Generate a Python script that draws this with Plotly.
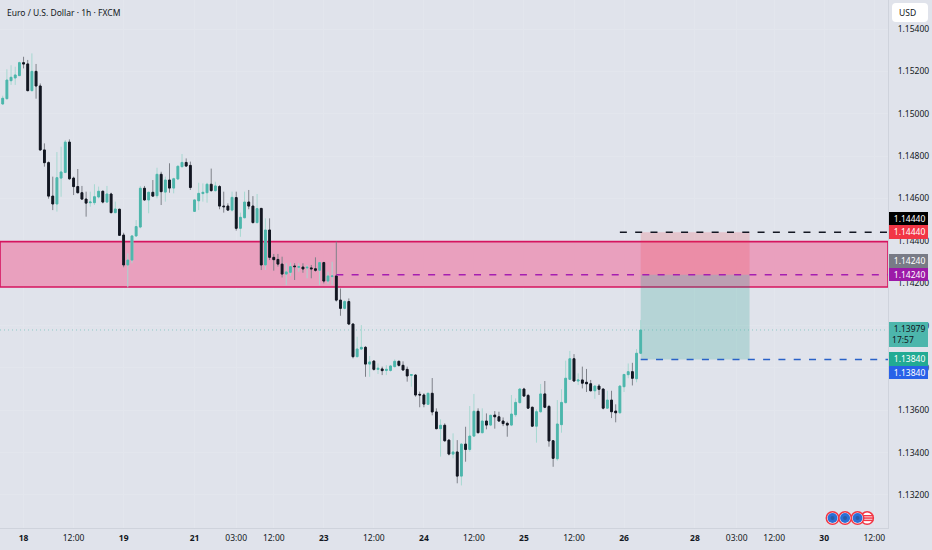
import plotly.graph_objects as go

# hourly EUR/USD candles
OPENS = [
    1.15046, 1.15071, 1.15156, 1.15169, 1.15180, 1.15241, 1.15235, 1.15109, 1.15200, 1.15131,
    1.14829, 1.14769, 1.14611, 1.14574, 1.14696, 1.14723, 1.14866, 1.14696, 1.14656, 1.14627,
    1.14597, 1.14580, 1.14580, 1.14607, 1.14634, 1.14583, 1.14621, 1.14533, 1.14549, 1.14427,
    1.14286, 1.14309, 1.14423, 1.14465, 1.14648, 1.14593, 1.14629, 1.14613, 1.14714, 1.14630,
    1.14687, 1.14649, 1.14692, 1.14750, 1.14770, 1.14756, 1.14539, 1.14589, 1.14623, 1.14627,
    1.14667, 1.14637, 1.14656, 1.14564, 1.14564, 1.14545, 1.14604, 1.14459, 1.14509, 1.14583,
    1.14564, 1.14486, 1.14553, 1.14286, 1.14451, 1.14322, 1.14312, 1.14290, 1.14243, 1.14251,
    1.14281, 1.14275, 1.14276, 1.14272, 1.14272, 1.14268, 1.14261, 1.14297, 1.14210, 1.14231,
    1.14234, 1.14120, 1.14081, 1.14113, 1.14007, 1.13853, 1.13889, 1.13897, 1.13818, 1.13832,
    1.13793, 1.13795, 1.13788, 1.13788, 1.13806, 1.13831, 1.13812, 1.13793, 1.13765, 1.13766,
    1.13675, 1.13672, 1.13628, 1.13680, 1.13592, 1.13513, 1.13529, 1.13459, 1.13393, 1.13403,
    1.13289, 1.13440, 1.13415, 1.13478, 1.13595, 1.13494, 1.13549, 1.13530, 1.13577, 1.13569,
    1.13549, 1.13538, 1.13530, 1.13579, 1.13636, 1.13700, 1.13670, 1.13614, 1.13525, 1.13593,
    1.13677, 1.13618, 1.13456, 1.13371, 1.13532, 1.13636, 1.13746, 1.13843, 1.13738, 1.13743,
    1.13732, 1.13725, 1.13692, 1.13714, 1.13700, 1.13610, 1.13648, 1.13596, 1.13588, 1.13711,
    1.13768, 1.13782, 1.13749, 1.13869,
]
HIGHS = [
    1.15085, 1.15210, 1.15229, 1.15222, 1.15246, 1.15269, 1.15254, 1.15285, 1.15235, 1.15143,
    1.14860, 1.14775, 1.14703, 1.14819, 1.14844, 1.14876, 1.14879, 1.14703, 1.14739, 1.14659,
    1.14632, 1.14632, 1.14667, 1.14656, 1.14637, 1.14659, 1.14627, 1.14585, 1.14551, 1.14438,
    1.14341, 1.14427, 1.14498, 1.14659, 1.14659, 1.14632, 1.14687, 1.14745, 1.14726, 1.14703,
    1.14766, 1.14698, 1.14755, 1.14810, 1.14789, 1.14774, 1.14593, 1.14674, 1.14671, 1.14674,
    1.14741, 1.14679, 1.14663, 1.14632, 1.14577, 1.14632, 1.14632, 1.14533, 1.14632, 1.14640,
    1.14611, 1.14621, 1.14553, 1.14506, 1.14506, 1.14338, 1.14338, 1.14325, 1.14294, 1.14297,
    1.14294, 1.14294, 1.14294, 1.14286, 1.14286, 1.14322, 1.14301, 1.14301, 1.14254, 1.14301,
    1.14396, 1.14175, 1.14120, 1.14128, 1.14010, 1.13947, 1.14002, 1.13903, 1.13856, 1.13837,
    1.13821, 1.13806, 1.13813, 1.13813, 1.13840, 1.13834, 1.13831, 1.13806, 1.13771, 1.13771,
    1.13688, 1.13680, 1.13683, 1.13752, 1.13609, 1.13557, 1.13538, 1.13462, 1.13491, 1.13459,
    1.13444, 1.13522, 1.13620, 1.13677, 1.13609, 1.13609, 1.13585, 1.13579, 1.13596, 1.13593,
    1.13566, 1.13546, 1.13672, 1.13656, 1.13703, 1.13706, 1.13677, 1.13617, 1.13604, 1.13724,
    1.13738, 1.13625, 1.13459, 1.13648, 1.13699, 1.13834, 1.13880, 1.13865, 1.13774, 1.13806,
    1.13795, 1.13743, 1.13717, 1.13724, 1.13703, 1.13692, 1.13692, 1.13628, 1.13717, 1.13771,
    1.13821, 1.13824, 1.13889, 1.14026,
]
LOWS = [
    1.15043, 1.15068, 1.15136, 1.15136, 1.15178, 1.15214, 1.15106, 1.15106, 1.15071, 1.14826,
    1.14750, 1.14599, 1.14545, 1.14538, 1.14608, 1.14719, 1.14687, 1.14616, 1.14624, 1.14593,
    1.14514, 1.14561, 1.14569, 1.14600, 1.14577, 1.14580, 1.14530, 1.14530, 1.14423, 1.14275,
    1.14180, 1.14294, 1.14419, 1.14459, 1.14589, 1.14530, 1.14608, 1.14600, 1.14569, 1.14585,
    1.14627, 1.14624, 1.14687, 1.14747, 1.14750, 1.14640, 1.14536, 1.14545, 1.14585, 1.14580,
    1.14632, 1.14632, 1.14549, 1.14533, 1.14542, 1.14538, 1.14448, 1.14419, 1.14506, 1.14549,
    1.14482, 1.14482, 1.14262, 1.14262, 1.14309, 1.14259, 1.14278, 1.14227, 1.14191, 1.14234,
    1.14215, 1.14254, 1.14249, 1.14223, 1.14223, 1.14254, 1.14191, 1.14199, 1.14196, 1.14191,
    1.14113, 1.14046, 1.14076, 1.14002, 1.13845, 1.13850, 1.13884, 1.13758, 1.13758, 1.13787,
    1.13771, 1.13766, 1.13766, 1.13782, 1.13802, 1.13806, 1.13787, 1.13735, 1.13711, 1.13664,
    1.13614, 1.13614, 1.13625, 1.13576, 1.13510, 1.13381, 1.13451, 1.13387, 1.13373, 1.13255,
    1.13245, 1.13357, 1.13404, 1.13475, 1.13491, 1.13491, 1.13510, 1.13525, 1.13513, 1.13546,
    1.13525, 1.13475, 1.13525, 1.13569, 1.13632, 1.13664, 1.13607, 1.13522, 1.13447, 1.13588,
    1.13610, 1.13428, 1.13333, 1.13362, 1.13494, 1.13632, 1.13743, 1.13735, 1.13719, 1.13703,
    1.13686, 1.13689, 1.13654, 1.13672, 1.13604, 1.13607, 1.13563, 1.13543, 1.13585, 1.13686,
    1.13751, 1.13717, 1.13732, 1.13865,
]
CLOSES = [
    1.15073, 1.15159, 1.15172, 1.15183, 1.15241, 1.15235, 1.15109, 1.15200, 1.15131, 1.14829,
    1.14769, 1.14611, 1.14574, 1.14698, 1.14725, 1.14866, 1.14693, 1.14656, 1.14627, 1.14597,
    1.14578, 1.14583, 1.14608, 1.14634, 1.14583, 1.14621, 1.14533, 1.14550, 1.14426, 1.14286,
    1.14309, 1.14423, 1.14467, 1.14648, 1.14593, 1.14629, 1.14611, 1.14714, 1.14632, 1.14687,
    1.14649, 1.14693, 1.14752, 1.14770, 1.14753, 1.14652, 1.14593, 1.14624, 1.14629, 1.14667,
    1.14637, 1.14659, 1.14564, 1.14561, 1.14545, 1.14605, 1.14459, 1.14511, 1.14583, 1.14564,
    1.14486, 1.14552, 1.14286, 1.14451, 1.14322, 1.14311, 1.14290, 1.14243, 1.14253, 1.14278,
    1.14278, 1.14278, 1.14267, 1.14275, 1.14268, 1.14261, 1.14297, 1.14210, 1.14234, 1.14234,
    1.14120, 1.14081, 1.14113, 1.14007, 1.13853, 1.13889, 1.13897, 1.13818, 1.13828, 1.13793,
    1.13798, 1.13787, 1.13793, 1.13809, 1.13831, 1.13812, 1.13790, 1.13762, 1.13768, 1.13672,
    1.13672, 1.13629, 1.13680, 1.13592, 1.13513, 1.13529, 1.13456, 1.13393, 1.13403, 1.13289,
    1.13440, 1.13415, 1.13478, 1.13595, 1.13494, 1.13549, 1.13530, 1.13576, 1.13569, 1.13549,
    1.13537, 1.13530, 1.13582, 1.13637, 1.13700, 1.13667, 1.13610, 1.13525, 1.13593, 1.13677,
    1.13614, 1.13455, 1.13373, 1.13535, 1.13637, 1.13751, 1.13843, 1.13738, 1.13743, 1.13728,
    1.13725, 1.13692, 1.13714, 1.13699, 1.13610, 1.13648, 1.13593, 1.13588, 1.13714, 1.13769,
    1.13782, 1.13751, 1.13869, 1.13979,
]
BARS = list(range(len(OPENS)))

X_TICKS = [5, 17, 29, 46, 56, 65, 77, 89, 101, 113, 125, 137, 149, 166, 176, 185, 197, 209]
X_LABELS = [
    "<b>18</b>", "12:00", "<b>19</b>", "<b>21</b>", "03:00", "12:00", "<b>23</b>", "12:00", "<b>24</b>",
    "12:00", "<b>25</b>", "12:00", "<b>26</b>", "<b>28</b>", "03:00", "12:00", "<b>30</b>", "12:00",
]
Y_TICKS = [1.132, 1.134, 1.136, 1.138, 1.14, 1.142, 1.144, 1.146, 1.148, 1.15, 1.152, 1.154]

ZONE_TOP = 1.14396
ZONE_BOTTOM = 1.14182
STOP = 1.14440
ENTRY = 1.14240
TARGET = 1.13840
LAST = 1.13979
STOP_FROM = 148
ENTRY_FROM = 80
BOX_FROM = 153
BOX_TO = 179.1
EVENT_BARS = [199, 202, 205]
FLAG_BAR = 207.3
EVENT_PRICE = 1.13091

X_RANGE = [-0.65, 212.3]
Y_RANGE = [1.13044, 1.15537]
PLOT_W = 888
PLOT_H = 528

BG = "#E0E3EB"
FONT = "Noto Sans"
FONT_SIZE = 8.5

# price tags on the axis: text, fill, text colour, top and bottom in pixels
TAGS = [
    ("\u00a01.14440", "#000000", "#FFFFFF", 212, 225),
    ("\u00a01.14440", "#F23645", "#FFFFFF", 225, 238.5),
    ("\u00a01.14240", "#787B86", "#FFFFFF", 254.5, 268),
    ("\u00a01.14240", "#9C1AA8", "#FFFFFF", 268, 281),
    ("\u00a01.13979<br>17:57\u00a0\u00a0\u00a0\u00a0\u00a0", "#4DB6AC", "#131722", 322.5, 347),
    ("\u00a01.13840", "#22AB94", "#FFFFFF", 352.5, 366),
    ("\u00a01.13840", "#2962E8", "#FFFFFF", 366, 379),
]

fig = go.Figure()
# wicks in the light colours, the bodies go on top as a second trace
fig.add_trace(
    go.Candlestick(
        x=BARS,
        open=OPENS,
        high=HIGHS,
        low=LOWS,
        close=CLOSES,
        whiskerwidth=0,
        increasing=dict(fillcolor="#4DB6AC", line=dict(color="#A6D8D1", width=1)),
        decreasing=dict(fillcolor="#131722", line=dict(color="#7E8189", width=1)),
        hoverinfo="skip",
        showlegend=False,
    )
)
fig.add_trace(
    go.Candlestick(
        x=BARS,
        open=OPENS,
        high=[max(o, c) for o, c in zip(OPENS, CLOSES)],
        low=[min(o, c) for o, c in zip(OPENS, CLOSES)],
        close=CLOSES,
        whiskerwidth=0,
        increasing=dict(fillcolor="#4DB6AC", line=dict(color="#4DB6AC", width=1)),
        decreasing=dict(fillcolor="#131722", line=dict(color="#131722", width=1)),
        hoverinfo="skip",
        showlegend=False,
    )
)

# currency event icons along the bottom
flag_y = [EVENT_PRICE + 0.00011, EVENT_PRICE, EVENT_PRICE - 0.00011]
fig.add_trace(
    go.Scatter(
        x=[FLAG_BAR],
        y=[EVENT_PRICE],
        mode="markers",
        marker=dict(size=12.5, color="#FFFFFF", line=dict(color="#F23645", width=1.5)),
        hoverinfo="skip",
        showlegend=False,
    )
)
fig.add_trace(
    go.Scatter(
        x=[FLAG_BAR + 0.3] * 3,
        y=flag_y,
        mode="markers",
        marker=dict(size=7, symbol="line-ew", line=dict(color="#F23645", width=1.5)),
        hoverinfo="skip",
        showlegend=False,
    )
)
fig.add_trace(
    go.Scatter(
        x=EVENT_BARS[::-1],
        y=[EVENT_PRICE] * len(EVENT_BARS),
        mode="markers",
        marker=dict(size=12.5, color="#FFFFFF", line=dict(color="#F23645", width=1.5)),
        hoverinfo="skip",
        showlegend=False,
    )
)
fig.add_trace(
    go.Scatter(
        x=EVENT_BARS,
        y=[EVENT_PRICE] * len(EVENT_BARS),
        mode="markers",
        marker=dict(size=10, color="#2B6FD6"),
        hoverinfo="skip",
        showlegend=False,
    )
)
fig.add_trace(
    go.Scatter(
        x=EVENT_BARS,
        y=[EVENT_PRICE] * len(EVENT_BARS),
        mode="markers",
        marker=dict(size=4, color="#2A5CA8"),
        hoverinfo="skip",
        showlegend=False,
    )
)

shapes = [
    # pink supply zone
    dict(
        type="rect", xref="x", yref="y", x0=X_RANGE[0], x1=X_RANGE[1], y0=ZONE_BOTTOM, y1=ZONE_TOP,
        fillcolor="#E9A0BE", line=dict(color="#D5145F", width=1.6), layer="between",
    ),
    # short position box
    dict(
        type="rect", xref="x", yref="y", x0=BOX_FROM, x1=BOX_TO, y0=ENTRY, y1=STOP,
        fillcolor="rgba(242,54,69,0.18)", line=dict(width=0), layer="between",
    ),
    dict(
        type="rect", xref="x", yref="y", x0=BOX_FROM, x1=BOX_TO, y0=TARGET, y1=ENTRY,
        fillcolor="rgba(8,153,129,0.2)", line=dict(width=0), layer="between",
    ),
    dict(
        type="line", xref="x", yref="y", x0=X_RANGE[0], x1=X_RANGE[1], y0=LAST, y1=LAST,
        line=dict(color="rgba(77,182,172,0.55)", width=1, dash="1px,3px"), layer="between",
    ),
    dict(
        type="line", xref="x", yref="y", x0=STOP_FROM, x1=X_RANGE[1], y0=STOP, y1=STOP,
        line=dict(color="#131722", width=1.5, dash="7px,8.3px"),
    ),
    dict(
        type="line", xref="x", yref="y", x0=ENTRY_FROM, x1=X_RANGE[1], y0=ENTRY, y1=ENTRY,
        line=dict(color="#A61FB0", width=1.5, dash="7px,8.3px"),
    ),
    dict(
        type="line", xref="x", yref="y", x0=BOX_FROM, x1=X_RANGE[1], y0=TARGET, y1=TARGET,
        line=dict(color="#2962C8", width=1.5, dash="7px,8.3px"),
    ),
]

# USD button, rounded corners
bx0, bx1, by0, by1, r = 892 / PLOT_W, 928 / PLOT_W, 1 - 3 / PLOT_H, 1 - 22 / PLOT_H, 4
rx, ry = r / PLOT_W, r / PLOT_H
shapes.append(
    dict(
        type="path", xref="paper", yref="paper",
        path=(
            f"M {bx0 + rx} {by0} L {bx1 - rx} {by0} Q {bx1} {by0} {bx1} {by0 - ry} "
            f"L {bx1} {by1 + ry} Q {bx1} {by1} {bx1 - rx} {by1} L {bx0 + rx} {by1} "
            f"Q {bx0} {by1} {bx0} {by1 + ry} L {bx0} {by0 - ry} Q {bx0} {by0} {bx0 + rx} {by0} Z"
        ),
        fillcolor="#FFFFFF", line=dict(width=0),
    )
)

annotations = [
    dict(
        text="Euro / U.S. Dollar · 1h · FXCM", xref="paper", yref="paper", x=5 / PLOT_W, y=1 - 12.5 / PLOT_H,
        xanchor="left", yanchor="middle", showarrow=False, font=dict(family=FONT, size=FONT_SIZE, color="#131722"),
    ),
    dict(
        text="USD", xref="paper", yref="paper", x=897 / PLOT_W, y=1 - 12.5 / PLOT_H,
        xanchor="left", yanchor="middle", showarrow=False, font=dict(family=FONT, size=FONT_SIZE, color="#131722"),
    ),
]
for text, fill, ink, top, bottom in TAGS:
    annotations.append(
        dict(
            text=text, xref="paper", yref="paper", x=908.5 / PLOT_W, y=1 - (top + bottom) / 2 / PLOT_H,
            xanchor="center", yanchor="middle", width=39, height=bottom - top, borderpad=0, borderwidth=0,
            bgcolor=fill, showarrow=False, font=dict(family=FONT, size=FONT_SIZE, color=ink),
        )
    )

fig.update_layout(
    width=932,
    height=550,
    margin=dict(l=0, r=44, t=0, b=22, pad=0),
    paper_bgcolor=BG,
    plot_bgcolor=BG,
    boxgap=0.4,
    showlegend=False,
    shapes=shapes,
    annotations=annotations,
    font=dict(family=FONT, size=FONT_SIZE, color="#131722"),
    xaxis=dict(
        range=X_RANGE,
        automargin=False,
        tickmode="array",
        tickvals=X_TICKS,
        ticktext=X_LABELS,
        showgrid=True,
        gridcolor="#E3E6ED",
        gridwidth=1,
        zeroline=False,
        showline=True,
        linecolor="#CFD3DC",
        linewidth=1,
        ticks="",
        ticklabelstandoff=2,
        rangeslider=dict(visible=False),
        tickfont=dict(family=FONT, size=FONT_SIZE, color="#131722"),
    ),
    yaxis=dict(
        range=Y_RANGE,
        automargin=False,
        side="right",
        tickmode="array",
        tickvals=Y_TICKS,
        ticktext=[f"{v:.5f}" for v in Y_TICKS],
        showgrid=True,
        gridcolor="#E3E6ED",
        gridwidth=1,
        zeroline=False,
        showline=True,
        linecolor="#CFD3DC",
        linewidth=1,
        ticks="",
        ticklabelstandoff=7,
        tickfont=dict(family=FONT, size=FONT_SIZE, color="#131722"),
    ),
)

# browser body margin would shift the chart by 8px
fig.write_html(
    "out.html",
    config={"displayModeBar": False},
    post_script="document.body.style.margin='0';document.body.style.overflow='hidden';",
)
